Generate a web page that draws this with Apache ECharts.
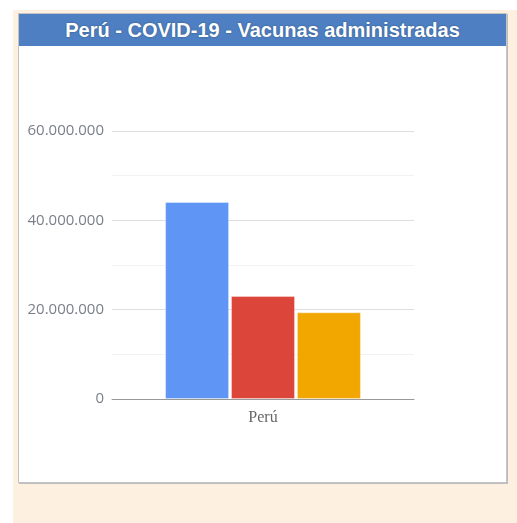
<!DOCTYPE html>
<html>
<head>
<meta charset="utf-8">
<script src="https://cdn.jsdelivr.net/npm/echarts@6/dist/echarts.min.js"></script>
<style>
  html, body { margin: 0; padding: 0; background: #fff; }
  #bg { position: absolute; left: 13px; top: 10px; width: 504px; height: 513px; background: #fdf0e0; }
  #panel { position: absolute; left: 18px; top: 13px; width: 487px; height: 468px; background: #fff;
           border: 1px solid #c4c4c4; box-shadow: 1px 1px 0 #bdbdbd; }
  #head { height: 32px; background: #4d7fc2; color: #fff; text-align: center;
          font: bold 20px "Liberation Sans", Arial, sans-serif; line-height: 33px;
          text-shadow: 0 0 2px rgba(0,0,0,0.35); }
  #chart { position: absolute; left: 0; top: 0; width: 517px; height: 523px; }
</style>
</head>
<body>
<div id="bg"></div>
<div id="panel"><div id="head">Perú - COVID-19 - Vacunas administradas</div></div>
<div id="chart"></div>
<script>
const categories = ['Perú'];
const seriesNames = ['Primera dosis', 'Segunda dosis', 'Tercera dosis'];
const seriesValues = [[44100000], [23050000], [19400000]];
const seriesColors = ['#5f96f5', '#dc4539', '#f1a600'];

function fmt(v) {
  return String(v).replace(/\B(?=(\d{3})+(?!\d))/g, '.');
}

var myChart = echarts.init(document.getElementById('chart'));
var option = {
  animation: false,
  grid: { left: 112, right: 103, top: 131, bottom: 124 },
  xAxis: {
    type: 'category',
    data: categories,
    axisTick: { show: false },
    axisLine: { lineStyle: { color: '#999', width: 1 } },
    axisLabel: { color: '#666', fontFamily: 'Liberation Serif', fontSize: 16, margin: 11 },
  },
  yAxis: {
    type: 'value',
    min: 0,
    max: 60000000,
    interval: 20000000,
    axisLine: { show: false },
    axisTick: { show: false },
    axisLabel: { color: '#7a7f88', fontFamily: 'Open Sans', fontSize: 15, margin: 8, formatter: fmt },
    splitLine: { lineStyle: { color: '#dedede' } },
    minorTick: { show: false, splitNumber: 2 },
    minorSplitLine: { show: true, lineStyle: { color: '#f2f2f2' } },
  },
  series: seriesNames.map(function (name, i) {
    return {
      name: name,
      type: 'bar',
      data: seriesValues[i],
      barWidth: 64,
      barGap: '3%',
      itemStyle: { color: seriesColors[i], borderColor: 'rgba(255,255,255,0.35)', borderWidth: 1 },
    };
  }),
};
myChart.setOption(option, true);
</script>
</body>
</html>
